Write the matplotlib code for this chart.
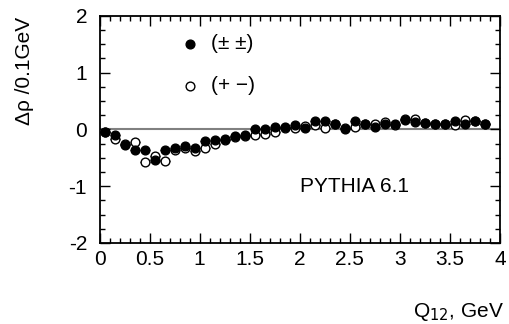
import numpy as np
import matplotlib
matplotlib.use("Agg")
import matplotlib.pyplot as plt
from matplotlib.ticker import MultipleLocator

plt.rcParams["font.family"] = ["Liberation Sans", "DejaVu Sans"]

# Q12 bin centres (GeV), 0.1 GeV bins
q12 = [0.05, 0.15, 0.25, 0.35, 0.45, 0.55, 0.65, 0.75, 0.85, 0.95,
       1.05, 1.15, 1.25, 1.35, 1.45, 1.55, 1.65, 1.75, 1.85, 1.95,
       2.05, 2.15, 2.25, 2.35, 2.45, 2.55, 2.65, 2.75, 2.85, 2.95,
       3.05, 3.15, 3.25, 3.35, 3.45, 3.55, 3.65, 3.75, 3.85]

# like-sign pairs (+-+-)
rho_like = [-0.04, -0.10, -0.28, -0.37, -0.37, -0.53, -0.37, -0.32, -0.30, -0.33,
            -0.20, -0.18, -0.16, -0.11, -0.09, 0.01, 0.01, 0.04, 0.05, 0.07,
            0.02, 0.15, 0.15, 0.09, 0.00, 0.15, 0.10, 0.04, 0.10, 0.10,
            0.16, 0.13, 0.12, 0.09, 0.10, 0.15, 0.10, 0.15, 0.10]

# unlike-sign pairs (+ -)
rho_unlike = [-0.04, -0.16, -0.25, -0.23, -0.57, -0.46, -0.56, -0.37, -0.32, -0.38,
              -0.33, -0.26, -0.18, -0.14, -0.11, -0.09, -0.08, -0.05, 0.03, 0.03,
              0.06, 0.07, 0.03, 0.10, 0.02, 0.04, 0.10, 0.10, 0.13, 0.08,
              0.19, 0.18, 0.12, 0.09, 0.10, 0.07, 0.16, 0.15, 0.10]

bin_half = 0.05
FS = 15
MS = 6.3

fig = plt.figure(figsize=(5.09, 3.24), dpi=100)
ax = fig.add_axes([0.1955, 0.25, 0.7865, 0.701])

ax.axhline(0, color="#808080", lw=1.5, zorder=1)

ax.errorbar(q12, rho_unlike, xerr=bin_half, fmt="o", ms=MS, mfc="white",
            mec="black", mew=1.0, ecolor="black", elinewidth=0.8, capsize=0, zorder=3)
ax.errorbar(q12, rho_like, xerr=bin_half, fmt="o", ms=MS, mfc="black",
            mec="black", mew=1.0, ecolor="black", elinewidth=0.8, capsize=0, zorder=4)

# legend drawn as in the original figure
ax.plot([0.9], [1.51], "o", ms=MS, mfc="black", mec="black")
ax.text(1.11, 1.51, "(\u00b1 \u00b1)", fontsize=FS, va="center", ha="left")
ax.plot([0.9], [0.77], "o", ms=MS, mfc="white", mec="black", mew=1.0)
ax.text(1.11, 0.77, "(+ \u2212)", fontsize=FS, va="center", ha="left")

ax.text(2.55, -1.0, "PYTHIA 6.1", fontsize=FS, ha="center", va="center")

ax.set_xlim(0, 4)
ax.set_ylim(-2, 2)
ax.xaxis.set_minor_locator(MultipleLocator(0.1))
ax.yaxis.set_minor_locator(MultipleLocator(0.25))
ax.set_xticks([0, 0.5, 1, 1.5, 2, 2.5, 3, 3.5, 4])
ax.set_xticklabels(["0", "0.5", "1", "1.5", "2", "2.5", "3", "3.5", "4"])
ax.set_yticks([-2, -1, 0, 1, 2])
ax.set_yticklabels(["-2", "-1", "0", "1", "2"])
ax.tick_params(which="both", direction="in", top=True, right=True, labelsize=FS)
ax.tick_params(which="major", length=7, width=1.0)
ax.tick_params(which="minor", length=3.5, width=1.0)
ax.tick_params(axis="x", pad=5)
ax.tick_params(axis="y", pad=9)
for sp in ax.spines.values():
    sp.set_linewidth(1.3)

fig.text(0.049, 0.78, "\u0394\u03c1 /0.1GeV", rotation=90, fontsize=FS,
         ha="center", va="center")
fig.text(0.99, 0.022, "Q$_{12}$, GeV", fontsize=FS, ha="right", va="baseline")

fig.savefig("out.png", dpi=100)
